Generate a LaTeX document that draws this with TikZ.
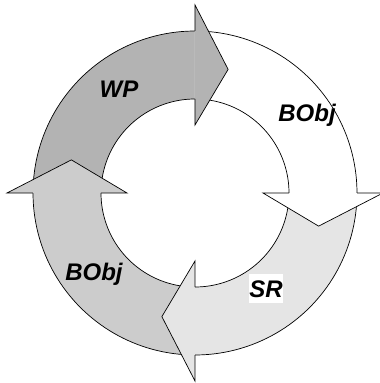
\documentclass[tikz,border=0pt]{standalone}
\usepackage{fontspec}
\setmainfont{Liberation Sans}
\begin{document}
\begin{tikzpicture}[x=1pt,y=1pt,
  edge/.style={draw=black,line width=0.7pt,line join=miter},
  lbl/.style={font=\fontsize{24}{28}\selectfont\bfseries\itshape,anchor=base,inner sep=0pt}]
\useasboundingbox (-195,-190) rectangle (185,193);
\def\Ro{162}\def\Ri{94}\def\Hm{128}\def\Ho{188}\def\Hi{68}
\definecolor{cwp}{HTML}{B3B3B3}
\definecolor{cbl}{HTML}{CCCCCC}
\definecolor{csr}{HTML}{E5E5E5}
\definecolor{cbr}{HTML}{FFFFFF}
% bodies: tail angle, colour
\foreach \t/\c in {180/cwp, 90/cbr, 0/csr, -90/cbl}{
  \pgfmathsetmacro{\e}{\t-91}
  \fill[\c] (\t:\Ro) arc[start angle=\t,end angle=\e,radius=\Ro]
     -- (\e:\Ri) arc[start angle=\e,end angle=\t,radius=\Ri] -- cycle;
  \draw[edge] (\t:\Ro) arc[start angle=\t,end angle=\e,radius=\Ro];
  \draw[edge] (\t:\Ri) arc[start angle=\t,end angle=\e,radius=\Ri];
}
% heads: base angle, colour
\foreach \b/\c in {90/cwp, 0/cbr, -90/csr, -180/cbl}{
  \pgfmathsetmacro{\tp}{\b-15}
  \filldraw[edge,fill=\c] (\b:\Ro) -- (\b:\Ho) -- (\tp:\Hm) -- (\b:\Hi) -- (\b:\Ri);
}
\node[lbl] (wp) at (-76,95) {WP};
\node[lbl] (bobjr) at (112,71) {BObj};
\node[lbl] (bobjl) at (-101,-87) {BObj};
\node[lbl,fill=white,text height=23pt,text depth=6pt,inner xsep=0.5pt] (sr) at (71,-104) {SR};
\end{tikzpicture}
\end{document}
